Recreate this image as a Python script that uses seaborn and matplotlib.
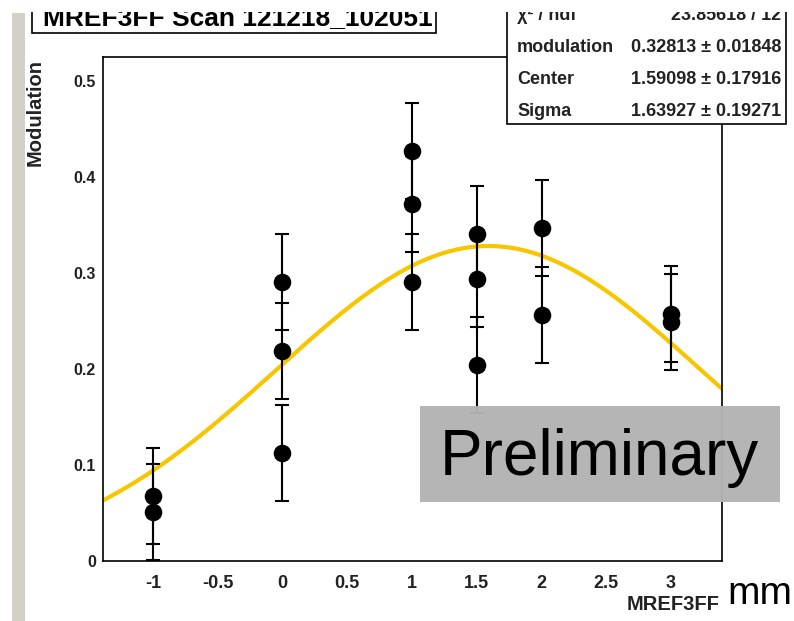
import numpy as np
import pandas as pd
import matplotlib
matplotlib.use("Agg")
import matplotlib.pyplot as plt
import seaborn as sns
from matplotlib.ticker import MultipleLocator
from matplotlib.patches import Rectangle

# ---- data ----
positions = [-1, -1, 0, 0, 0, 1, 1, 1, 1.5, 1.5, 1.5, 2, 2, 3, 3]
modulation = [0.068, 0.051, 0.291, 0.219, 0.113, 0.427, 0.372, 0.291,
              0.341, 0.294, 0.204, 0.347, 0.256, 0.257, 0.249]
errors = [0.05] * 15

# fit parameters (from the stats box)
fit_amp = 0.32813
fit_center = 1.59098
fit_sigma = 1.63927
x_tick_values = [-1, -0.5, 0, 0.5, 1, 1.5, 2, 2.5, 3]
y_tick_values = [0, 0.1, 0.2, 0.3, 0.4, 0.5]

df = pd.DataFrame({"x": positions, "y": modulation, "err": errors})
xlim = (-1.385, 3.393)
xf = np.linspace(xlim[0], xlim[1], 300)
fit_df = pd.DataFrame({"x": xf,
                       "y": fit_amp * np.exp(-(xf - fit_center) ** 2 / (2 * fit_sigma ** 2))})

sns.set_style("white")
plt.rcParams["font.family"] = ["Liberation Sans", "DejaVu Sans"]

W, H = 794, 621
fig = plt.figure(figsize=(W / 100, H / 100), dpi=100)

def fx(px):
    return px / W

def fy(py):
    return 1 - py / H

ax = fig.add_axes([fx(103), fy(561), fx(722) - fx(103), fy(57) - fy(561)])

sns.lineplot(data=fit_df, x="x", y="y", ax=ax, color="#f7c600", lw=3, zorder=2)
ax.errorbar(df["x"], df["y"], yerr=df["err"], fmt="none", ecolor="black",
            elinewidth=1.5, capsize=5, capthick=1.5, zorder=3)
sns.scatterplot(data=df, x="x", y="y", ax=ax, color="black", s=160,
                edgecolor="black", linewidth=0, zorder=4)

ax.set_xlim(*xlim)
ax.set_ylim(0, 0.525)
ax.set_xticks(x_tick_values)
ax.set_xticklabels(["-1", "-0.5", "0", "0.5", "1", "1.5", "2", "2.5", "3"])
ax.set_yticks(y_tick_values)
ax.set_yticklabels(["0", "0.1", "0.2", "0.3", "0.4", "0.5"])
ax.xaxis.set_minor_locator(MultipleLocator(0.1))
ax.yaxis.set_minor_locator(MultipleLocator(0.02))
ax.tick_params(axis="both", which="major", direction="in", length=14, width=1.2)
ax.tick_params(axis="both", which="minor", direction="in", length=7, width=1.2)
ax.tick_params(axis="x", which="major", pad=10, labelsize=13)
ax.tick_params(axis="y", which="major", pad=5, labelsize=11.5)
for lab in ax.get_xticklabels() + ax.get_yticklabels():
    lab.set_fontweight("bold")
    lab.set_color("#222222")
for sp in ax.spines.values():
    sp.set_color("black")
    sp.set_linewidth(1.2)
ax.set_xlabel("")
ax.set_ylabel("")

# left grey strip
fig.patches.append(Rectangle((fx(12), 0), fx(25) - fx(12), fy(13), transform=fig.transFigure,
                             facecolor="#d4d0c8", edgecolor="none", zorder=0))

# y-axis label
fig.text(fx(35), fy(112), "Modulation", rotation=90, ha="center", va="center",
         fontsize=14.5, fontweight="bold", color="#222222")

# x-axis label
fig.text(fx(720), fy(604), "MREF3FF", ha="right", va="center", fontsize=14.5,
         fontweight="bold", color="#222222")
fig.text(fx(727), fy(594), "mm", ha="left", va="center", fontsize=28, color="black")

# title box (clipped at top)
fig.patches.append(Rectangle((fx(32), fy(33)), fx(436) - fx(32), 0.2, transform=fig.transFigure,
                             facecolor="white", edgecolor="black", lw=1.2, zorder=5))
fig.text(fx(238), fy(25), "MREF3FF Scan 121218_102051", ha="center", va="baseline",
         fontsize=19, fontweight="bold", color="black", zorder=6)

# stats box
fig.patches.append(Rectangle((fx(507), fy(124)), fx(786) - fx(507), 0.3, transform=fig.transFigure,
                             facecolor="white", edgecolor="black", lw=1.2, zorder=5))
stats = [("χ² / ndf", "23.85618 / 12", 16),
         ("modulation", "0.32813 ± 0.01848", 47),
         ("Center", "1.59098 ± 0.17916", 79),
         ("Sigma", "1.63927 ± 0.19271", 111)]
for name, val, py in stats:
    fig.text(fx(517), fy(py), name, ha="left", va="center", fontsize=13,
             fontweight="bold", color="#222222", zorder=6)
    fig.text(fx(781), fy(py), val, ha="right", va="center", fontsize=13,
             fontweight="bold", color="#222222", zorder=6)

# white band hiding the top of the canvas
fig.patches.append(Rectangle((0, fy(12)), 1, 1 - fy(12), transform=fig.transFigure,
                             facecolor="white", edgecolor="none", zorder=10))

# Preliminary box
fig.patches.append(Rectangle((fx(420), fy(502)), fx(780) - fx(420), fy(406) - fy(502),
                             transform=fig.transFigure, facecolor="#b3b3b3",
                             edgecolor="none", alpha=0.97, zorder=3))
fig.text(fx(599), fy(458), "Preliminary", ha="center", va="center", fontsize=46,
         color="black", zorder=6)

fig.savefig("out.png", dpi=100)
